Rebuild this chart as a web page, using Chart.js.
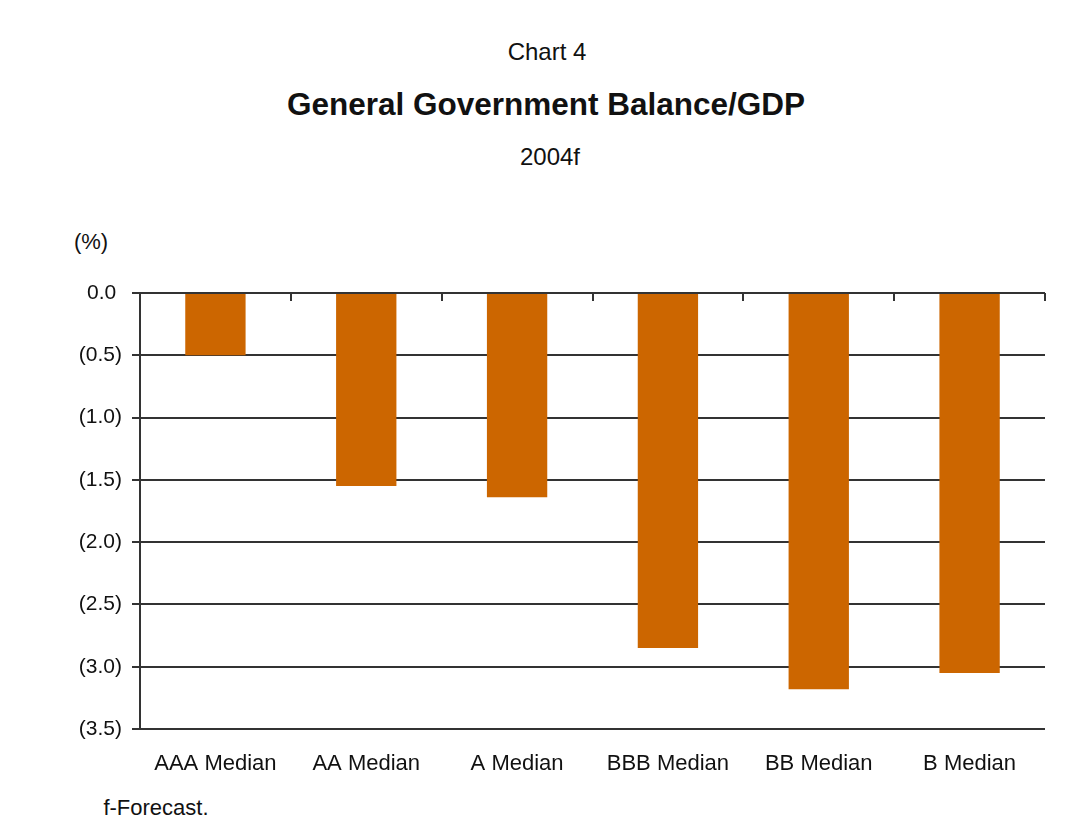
<style>
    body {
        margin: 0;
        background: #ffffff;
        font-family: "Liberation Sans", Arial, sans-serif;
        color: #111;
    }
    .wrap {
        position: relative;
        width: 1073px;
        height: 820px;
    }
    .txt {
        position: absolute;
        white-space: nowrap;
        transform: translate(-50%, -50%);
    }
</style>
<script src="https://cdn.jsdelivr.net/npm/chart.js"></script>
<div class="wrap">
    <div class="txt" style="left:547px; top:52px; font-size:24px;">Chart 4</div>
    <div class="txt" style="left:546px; top:104px; font-size:31.5px; font-weight:bold;">General Government Balance/GDP</div>
    <div class="txt" style="left:550px; top:157px; font-size:24px;">2004f</div>
    <div class="txt" style="left:91px; top:242px; font-size:22px;">(%)</div>
    <div class="txt" style="left:156px; top:808px; font-size:22px;">f-Forecast.</div>
    <canvas id="myChart" width="1073" height="820" style="position:absolute; left:0; top:0;"></canvas>
</div>
<script type="text/javascript">
    const categories = ['AAA Median', 'AA Median', 'A Median', 'BBB Median', 'BB Median', 'B Median'];
    const balance = [-0.5, -1.55, -1.64, -2.85, -3.18, -3.05];
    const yTicks = [0, -0.5, -1.0, -1.5, -2.0, -2.5, -3.0, -3.5];

    const font = "'Liberation Sans', Arial, sans-serif";

    // small tick marks on the zero line, between categories (pointing down)
    const catTicks = {
        id: 'catTicks',
        afterDraw(chart) {
            const x = chart.scales.x, y = chart.scales.y;
            const c = chart.ctx;
            const y0 = y.getPixelForValue(0);
            c.save();
            c.strokeStyle = '#333';
            c.lineWidth = 2;
            for (let i = 1; i <= categories.length; i++) {
                const px = Math.round(x.getPixelForValue(i - 0.5));
                c.beginPath();
                c.moveTo(px, y0);
                c.lineTo(px, y0 + 8);
                c.stroke();
            }
            c.restore();
        }
    };

    const ctx = document.getElementById('myChart');
    var chart = new Chart(ctx, {
        type: 'bar',
        data: {
            labels: categories,
            datasets: [{
                label: 'General Government Balance/GDP',
                data: balance,
                backgroundColor: '#cc6600',
                borderWidth: 0,
                categoryPercentage: 1.0,
                barPercentage: 0.4
            }]
        },
        options: {
            responsive: false,
            animation: false,
            layout: {
                padding: { top: 293, right: 28, bottom: 41, left: 0 }
            },
            plugins: {
                legend: { display: false },
                tooltip: { enabled: false }
            },
            scales: {
                x: {
                    grid: { display: false, drawTicks: false },
                    border: { display: false },
                    ticks: {
                        padding: 22,
                        color: '#111',
                        font: { family: font, size: 22 },
                        maxRotation: 0
                    },
                    afterFit(scale) { scale.height = 50; }
                },
                y: {
                    min: -3.5,
                    max: 0,
                    afterBuildTicks(scale) {
                        scale.ticks = yTicks.map(v => ({ value: v }));
                    },
                    grid: {
                        color: '#333',
                        lineWidth: 2,
                        tickLength: 8,
                        drawTicks: true
                    },
                    border: { display: true, color: '#333', width: 2 },
                    ticks: {
                        padding: 10,
                        color: '#111',
                        font: { family: font, size: 21 },
                        callback: function (v) {
                            if (v === 0) return '0.0 ';
                            return '(' + Math.abs(v).toFixed(1) + ')';
                        }
                    },
                    afterFit(scale) { scale.width = 140; }
                }
            }
        },
        plugins: [catTicks]
    });
</script>
